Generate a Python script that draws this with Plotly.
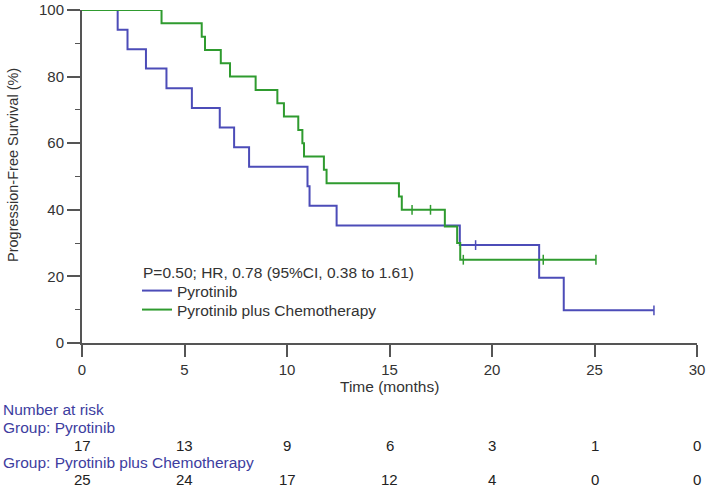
import plotly.graph_objects as go

# ---------------- data ----------------
pyro_time = [0, 1.74, 2.22, 3.12, 4.12, 5.36, 6.72, 7.42, 8.15, 11.0, 11.1, 12.42, 18.43, 22.3, 23.5, 27.9]
pyro_surv = [100, 94.1, 88.2, 82.4, 76.5, 70.6, 64.7, 58.8, 52.9, 47.1, 41.2, 35.3, 29.4, 19.6, 9.8, 9.8]
pyro_cens_time = [19.2, 27.9]
pyro_cens_surv = [29.4, 9.8]

combo_time = [0, 3.88, 5.84, 6.0, 6.77, 7.22, 8.47, 9.53, 9.85, 10.55, 10.75, 10.83, 11.8, 11.93,
              15.46, 15.6, 17.7, 18.3, 18.45, 25.07]
combo_surv = [100, 96, 92, 88, 84, 80, 76, 72, 68, 64, 60, 56, 52, 48, 44, 40, 35, 30, 25, 25]
combo_cens_time = [16.1, 17.0, 18.6, 22.5, 25.07]
combo_cens_surv = [40, 40, 25, 25, 25]

risk_times = [0, 5, 10, 15, 20, 25, 30]
risk_pyro = [17, 13, 9, 6, 3, 1, 0]
risk_combo = [25, 24, 17, 12, 4, 0, 0]

x_ticks = [0, 5, 10, 15, 20, 25, 30]
y_ticks = [0, 20, 40, 60, 80, 100]

BLUE = "#4c4cb8"
GREEN = "#2f9b2f"
AXIS = "#555555"
TXT = "#333333"
RISK_TXT = "#3d3da0"
FONT = "Liberation Sans, Arial, sans-serif"

fig = go.Figure()
fig.add_trace(go.Scatter(x=pyro_time, y=pyro_surv, mode="lines", line=dict(shape="hv", color=BLUE, width=2),
                         name="Pyrotinib", cliponaxis=False, legend="legend"))
fig.add_trace(go.Scatter(x=combo_time, y=combo_surv, mode="lines", line=dict(shape="hv", color=GREEN, width=2),
                         name="Pyrotinib plus Chemotherapy", cliponaxis=False, legend="legend2"))
fig.add_trace(go.Scatter(x=pyro_cens_time, y=pyro_cens_surv, mode="markers", showlegend=False,
                         marker=dict(symbol="line-ns", size=7, line=dict(color=BLUE, width=1.5))))
fig.add_trace(go.Scatter(x=combo_cens_time, y=combo_cens_surv, mode="markers", showlegend=False,
                         marker=dict(symbol="line-ns", size=7, line=dict(color=GREEN, width=1.5))))

L, R, T, B = 82, 12, 10, 146
W, H = 709, 489
pw, ph = W - L - R, H - T - B

def px_x(p):
    return (p - L) / pw

def px_y(p):
    return (H - B - p) / ph

ann = []
# y axis title
ann.append(dict(text="Progression-Free Survival (%)", x=px_x(13), y=px_y(165), xref="paper", yref="paper",
                textangle=-90, showarrow=False, font=dict(size=14.5, color=TXT, family=FONT),
                xanchor="center", yanchor="middle"))
# x axis title
ann.append(dict(text="Time (months)", x=15, y=px_y(386), xref="x", yref="paper",
                showarrow=False, font=dict(size=15.5, color=TXT, family=FONT), xanchor="center", yanchor="middle"))
# HR text
ann.append(dict(text="P=0.50; HR, 0.78 (95%CI, 0.38 to 1.61)", x=px_x(141), y=px_y(272), xref="paper", yref="paper",
                showarrow=False, font=dict(size=15.5, color=TXT, family=FONT), xanchor="left", yanchor="middle"))
# risk table
for txt, yp in [("Number at risk", 409), ("Group: Pyrotinib", 427), ("Group: Pyrotinib plus Chemotherapy", 462)]:
    ann.append(dict(text=txt, x=px_x(1), y=px_y(yp), xref="paper", yref="paper", showarrow=False,
                    font=dict(size=15.5, color=RISK_TXT, family=FONT), xanchor="left", yanchor="middle"))
for t, n in zip(risk_times, risk_pyro):
    ann.append(dict(text=str(n), x=t, y=px_y(445), xref="x", yref="paper", showarrow=False,
                    font=dict(size=15, color="#222222", family=FONT), xanchor="center", yanchor="middle"))
for t, n in zip(risk_times, risk_combo):
    ann.append(dict(text=str(n), x=t, y=px_y(479), xref="x", yref="paper", showarrow=False,
                    font=dict(size=15, color="#222222", family=FONT), xanchor="center", yanchor="middle"))

leg_common = dict(xanchor="left", yanchor="middle", bgcolor="rgba(0,0,0,0)",
                  font=dict(size=15.5, color=TXT, family=FONT))

fig.update_layout(
    width=W, height=H,
    margin=dict(l=L, r=R, t=T, b=B, autoexpand=False),
    paper_bgcolor="white", plot_bgcolor="white",
    font=dict(family=FONT, color=TXT, size=15),
    annotations=ann,
    legend=dict(x=px_x(137), y=px_y(291), **leg_common),
    legend2=dict(x=px_x(137), y=px_y(310), **leg_common),
    xaxis=dict(range=[0, 30], tickvals=x_ticks, showgrid=False, zeroline=False, showline=True, automargin=False,
               linecolor=AXIS, linewidth=2, ticks="outside", ticklen=12, tickwidth=2, tickcolor=AXIS,
               tickfont=dict(size=15, color=TXT)),
    yaxis=dict(range=[0, 100], tickvals=y_ticks, showgrid=False, zeroline=False, showline=True, automargin=False,
               linecolor=AXIS, linewidth=2, ticks="outside", ticklen=13, tickwidth=2, tickcolor=AXIS,
               tickfont=dict(size=15, color=TXT),
               minor=dict(tickvals=[10, 30, 50, 70, 90], ticks="outside", ticklen=5, tickcolor=AXIS, tickwidth=1)),
)

fig.write_html("out.html", config={"displayModeBar": False},
               post_script="document.body.style.margin='0';document.body.style.overflow='hidden';")
